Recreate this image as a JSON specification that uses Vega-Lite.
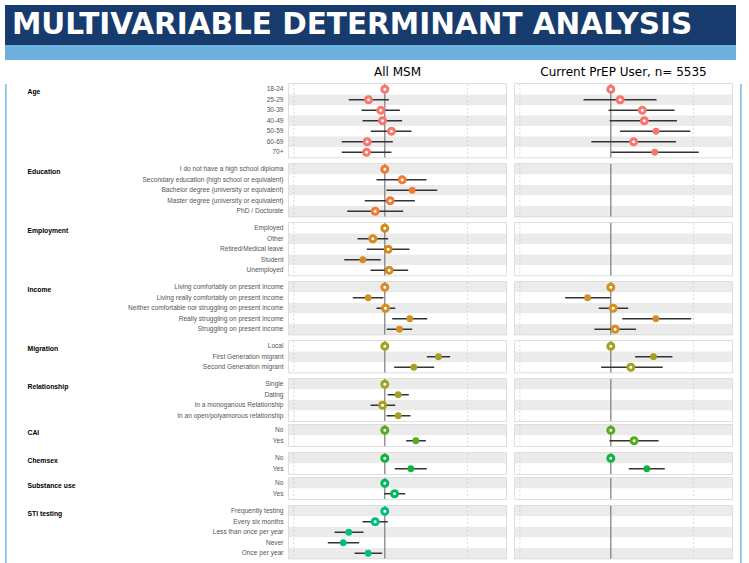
{
"$schema": "https://vega.github.io/schema/vega-lite/v6.json",
"background": "#ffffff",
"padding": {"left": 5, "top": 5, "right": 0, "bottom": 0},
"config": {"font": "Liberation Sans", "view": {"stroke": "#d3d3d3", "strokeWidth": 1.5}},
"data": {"values": [
{"i":1,"g":"Age","c":"18-24","p":"All MSM","est":0},
{"i":1,"g":"Age","c":"18-24","p":"Current PrEP User, n= 5535","est":0},
{"i":2,"g":"Age","c":"25-29","p":"All MSM","est":-0.179,"lo":-0.396,"hi":0.044},
{"i":2,"g":"Age","c":"25-29","p":"Current PrEP User, n= 5535","est":0.103,"lo":-0.3,"hi":0.503},
{"i":3,"g":"Age","c":"30-39","p":"All MSM","est":-0.044,"lo":-0.256,"hi":0.165},
{"i":3,"g":"Age","c":"30-39","p":"Current PrEP User, n= 5535","est":0.346,"lo":-0.024,"hi":0.701},
{"i":4,"g":"Age","c":"40-49","p":"All MSM","est":-0.025,"lo":-0.245,"hi":0.191},
{"i":4,"g":"Age","c":"40-49","p":"Current PrEP User, n= 5535","est":0.368,"lo":-0.013,"hi":0.727},
{"i":5,"g":"Age","c":"50-59","p":"All MSM","est":0.073,"lo":-0.154,"hi":0.293},
{"i":5,"g":"Age","c":"50-59","p":"Current PrEP User, n= 5535","est":0.497,"lo":0.101,"hi":0.874,"sig":true},
{"i":6,"g":"Age","c":"60-69","p":"All MSM","est":-0.194,"lo":-0.473,"hi":0.088},
{"i":6,"g":"Age","c":"60-69","p":"Current PrEP User, n= 5535","est":0.251,"lo":-0.214,"hi":0.716},
{"i":7,"g":"Age","c":"70+","p":"All MSM","est":-0.201,"lo":-0.473,"hi":0.073},
{"i":7,"g":"Age","c":"70+","p":"Current PrEP User, n= 5535","est":0.483,"lo":0.005,"hi":0.967,"sig":true},
{"i":8,"g":"Education","c":"I do not have a high school diploma","p":"All MSM","est":0},
{"i":8,"g":"Education","c":"I do not have a high school diploma","p":"Current PrEP User, n= 5535"},
{"i":9,"g":"Education","c":"Secondary education (high school or equivalent)","p":"All MSM","est":0.191,"lo":-0.091,"hi":0.458},
{"i":9,"g":"Education","c":"Secondary education (high school or equivalent)","p":"Current PrEP User, n= 5535"},
{"i":10,"g":"Education","c":"Bachelor degree (university or equivalent)","p":"All MSM","est":0.301,"lo":0.018,"hi":0.576,"sig":true},
{"i":10,"g":"Education","c":"Bachelor degree (university or equivalent)","p":"Current PrEP User, n= 5535"},
{"i":11,"g":"Education","c":"Master degree (university or equivalent)","p":"All MSM","est":0.059,"lo":-0.22,"hi":0.33},
{"i":11,"g":"Education","c":"Master degree (university or equivalent)","p":"Current PrEP User, n= 5535"},
{"i":12,"g":"Education","c":"PhD / Doctorate","p":"All MSM","est":-0.106,"lo":-0.413,"hi":0.202},
{"i":12,"g":"Education","c":"PhD / Doctorate","p":"Current PrEP User, n= 5535"},
{"i":13,"g":"Employment","c":"Employed","p":"All MSM","est":0},
{"i":13,"g":"Employment","c":"Employed","p":"Current PrEP User, n= 5535"},
{"i":14,"g":"Employment","c":"Other","p":"All MSM","est":-0.132,"lo":-0.3,"hi":0.037},
{"i":14,"g":"Employment","c":"Other","p":"Current PrEP User, n= 5535"},
{"i":15,"g":"Employment","c":"Retired/Medical leave","p":"All MSM","est":0.037,"lo":-0.198,"hi":0.271},
{"i":15,"g":"Employment","c":"Retired/Medical leave","p":"Current PrEP User, n= 5535"},
{"i":16,"g":"Employment","c":"Student","p":"All MSM","est":-0.242,"lo":-0.446,"hi":-0.044,"sig":true},
{"i":16,"g":"Employment","c":"Student","p":"Current PrEP User, n= 5535"},
{"i":17,"g":"Employment","c":"Unemployed","p":"All MSM","est":0.048,"lo":-0.157,"hi":0.257},
{"i":17,"g":"Employment","c":"Unemployed","p":"Current PrEP User, n= 5535"},
{"i":18,"g":"Income","c":"Living comfortably on present income","p":"All MSM","est":0},
{"i":18,"g":"Income","c":"Living comfortably on present income","p":"Current PrEP User, n= 5535","est":0},
{"i":19,"g":"Income","c":"Living really comfortably on present income","p":"All MSM","est":-0.183,"lo":-0.352,"hi":-0.015,"sig":true},
{"i":19,"g":"Income","c":"Living really comfortably on present income","p":"Current PrEP User, n= 5535","est":-0.256,"lo":-0.502,"hi":-0.005,"sig":true},
{"i":20,"g":"Income","c":"Neither comfortable nor struggling on present income","p":"All MSM","est":0.007,"lo":-0.091,"hi":0.114},
{"i":20,"g":"Income","c":"Neither comfortable nor struggling on present income","p":"Current PrEP User, n= 5535","est":0.026,"lo":-0.132,"hi":0.191},
{"i":21,"g":"Income","c":"Really struggling on present income","p":"All MSM","est":0.275,"lo":0.081,"hi":0.465,"sig":true},
{"i":21,"g":"Income","c":"Really struggling on present income","p":"Current PrEP User, n= 5535","est":0.495,"lo":0.125,"hi":0.883,"sig":true},
{"i":22,"g":"Income","c":"Struggling on present income","p":"All MSM","est":0.161,"lo":0.022,"hi":0.301,"sig":true},
{"i":22,"g":"Income","c":"Struggling on present income","p":"Current PrEP User, n= 5535","est":0.048,"lo":-0.18,"hi":0.278},
{"i":23,"g":"Migration","c":"Local","p":"All MSM","est":0},
{"i":23,"g":"Migration","c":"Local","p":"Current PrEP User, n= 5535","est":0},
{"i":24,"g":"Migration","c":"First Generation migrant","p":"All MSM","est":0.59,"lo":0.462,"hi":0.718,"sig":true},
{"i":24,"g":"Migration","c":"First Generation migrant","p":"Current PrEP User, n= 5535","est":0.469,"lo":0.267,"hi":0.677,"sig":true},
{"i":25,"g":"Migration","c":"Second Generation migrant","p":"All MSM","est":0.319,"lo":0.103,"hi":0.543,"sig":true},
{"i":25,"g":"Migration","c":"Second Generation migrant","p":"Current PrEP User, n= 5535","est":0.22,"lo":-0.106,"hi":0.571},
{"i":26,"g":"Relationship","c":"Single","p":"All MSM","est":0},
{"i":26,"g":"Relationship","c":"Single","p":"Current PrEP User, n= 5535"},
{"i":27,"g":"Relationship","c":"Dating","p":"All MSM","est":0.147,"lo":0.03,"hi":0.264,"sig":true},
{"i":27,"g":"Relationship","c":"Dating","p":"Current PrEP User, n= 5535"},
{"i":28,"g":"Relationship","c":"In a monoganous Relationship","p":"All MSM","est":-0.025,"lo":-0.157,"hi":0.114},
{"i":28,"g":"Relationship","c":"In a monoganous Relationship","p":"Current PrEP User, n= 5535"},
{"i":29,"g":"Relationship","c":"In an open/polyamorous relationship","p":"All MSM","est":0.147,"lo":0.019,"hi":0.282,"sig":true},
{"i":29,"g":"Relationship","c":"In an open/polyamorous relationship","p":"Current PrEP User, n= 5535"},
{"i":30,"g":"CAI","c":"No","p":"All MSM","est":0},
{"i":30,"g":"CAI","c":"No","p":"Current PrEP User, n= 5535","est":0},
{"i":31,"g":"CAI","c":"Yes","p":"All MSM","est":0.341,"lo":0.235,"hi":0.451,"sig":true},
{"i":31,"g":"CAI","c":"Yes","p":"Current PrEP User, n= 5535","est":0.256,"lo":-0.015,"hi":0.525},
{"i":32,"g":"Chemsex","c":"No","p":"All MSM","est":0},
{"i":32,"g":"Chemsex","c":"No","p":"Current PrEP User, n= 5535","est":0},
{"i":33,"g":"Chemsex","c":"Yes","p":"All MSM","est":0.286,"lo":0.11,"hi":0.462,"sig":true},
{"i":33,"g":"Chemsex","c":"Yes","p":"Current PrEP User, n= 5535","est":0.396,"lo":0.198,"hi":0.593,"sig":true},
{"i":34,"g":"Substance use","c":"No","p":"All MSM","est":0},
{"i":34,"g":"Substance use","c":"No","p":"Current PrEP User, n= 5535"},
{"i":35,"g":"Substance use","c":"Yes","p":"All MSM","est":0.107,"lo":-0.007,"hi":0.224},
{"i":35,"g":"Substance use","c":"Yes","p":"Current PrEP User, n= 5535"},
{"i":36,"g":"STI testing","c":"Frequently testing","p":"All MSM","est":0},
{"i":36,"g":"STI testing","c":"Frequently testing","p":"Current PrEP User, n= 5535"},
{"i":37,"g":"STI testing","c":"Every six months","p":"All MSM","est":-0.106,"lo":-0.245,"hi":0.033},
{"i":37,"g":"STI testing","c":"Every six months","p":"Current PrEP User, n= 5535"},
{"i":38,"g":"STI testing","c":"Less than once per year","p":"All MSM","est":-0.396,"lo":-0.553,"hi":-0.234,"sig":true},
{"i":38,"g":"STI testing","c":"Less than once per year","p":"Current PrEP User, n= 5535"},
{"i":39,"g":"STI testing","c":"Never","p":"All MSM","est":-0.457,"lo":-0.626,"hi":-0.281,"sig":true},
{"i":39,"g":"STI testing","c":"Never","p":"Current PrEP User, n= 5535"},
{"i":40,"g":"STI testing","c":"Once per year","p":"All MSM","est":-0.183,"lo":-0.333,"hi":-0.029,"sig":true},
{"i":40,"g":"STI testing","c":"Once per year","p":"Current PrEP User, n= 5535"}
]},
"spacing": 6,
"vconcat": [
{"spacing": 0, "vconcat": [
 {"data": {"values": [{"t": "MULTIVARIABLE DETERMINANT ANALYSIS"}]}, "width": 731, "height": 40, "view": {"fill": "#163B6C", "stroke": null},
  "mark": {"type": "text", "align": "left", "baseline": "middle", "font": "DejaVu Sans", "fontWeight": "bold", "fontSize": 29.5, "color": "#ffffff"},
  "encoding": {"text": {"field": "t"}, "x": {"value": 7}}},
 {"data": {"values": [{}]}, "width": 731, "height": 15, "view": {"fill": "#6DB0DE", "stroke": null},
  "mark": {"type": "rect", "color": "#6DB0DE"}, "encoding": {}}
]},
{"spacing": 20, "hconcat": [
 {"data": {"values": [{}]}, "width": 1.5, "height": 495, "view": {"fill": "#8EC3E8", "stroke": null}, "mark": {"type": "rect", "color": "#8EC3E8"}, "encoding": {}},
 {"spacing": 7, "hconcat": [
  {"spacing": -3, "vconcat": [
   {"transform": [{"filter": "datum.g == 'Age'"}],
    "facet": {"column": {"field": "p", "type": "nominal", "sort": ["All MSM", "Current PrEP User, n= 5535"], "title": null, "header": {"labelFont": "DejaVu Sans", "labelFontSize": 12, "labelColor": "#000000", "labelPadding": 0}}},
    "spacing": {"row": 0, "column": 7},
    "spec": {"width": 217, "height": {"step": 10.5}, "layer": [
     {"mark": {"type": "rect"}, "encoding": {"y": {"field": "c", "type": "nominal", "sort": {"field": "i", "op": "min"}, "scale": {"paddingInner": 0, "paddingOuter": 0}, "axis": {"title": "Age", "titleX": -261, "titleY": 7, "titleAngle": 0, "titleAlign": "left", "titleBaseline": "middle", "titleFontSize": 6.8, "titleFontWeight": "bold", "titleColor": "#000000", "labelFontSize": 6.6, "labelColor": "#555555", "ticks": false, "domain": false, "labelPadding": 5, "labelLimit": 300}}, "fill": {"condition": {"test": "datum.i % 2 == 0", "value": "#ebebeb"}, "value": "#ffffff"}}},
     {"transform": [{"filter": "datum.i == 1"}], "mark": {"type": "rule", "color": "#cccccc", "strokeDash": [2, 2], "strokeWidth": 0.7}, "encoding": {"x": {"datum": -1, "type": "quantitative", "scale": {"domain": [-1.053, 1.332]}, "axis": null}}},
     {"transform": [{"filter": "datum.i == 1"}], "mark": {"type": "rule", "color": "#cccccc", "strokeDash": [2, 2], "strokeWidth": 0.7}, "encoding": {"x": {"datum": 0.908, "type": "quantitative", "scale": {"domain": [-1.053, 1.332]}, "axis": null}}},
     {"transform": [{"filter": "datum.i == 1"}], "mark": {"type": "rule", "color": "#7a7a7a", "strokeWidth": 1.2}, "encoding": {"x": {"datum": 0, "type": "quantitative", "scale": {"domain": [-1.053, 1.332]}, "axis": null}}},
     {"transform": [{"filter": "datum.lo != null"}], "mark": {"type": "rule", "color": "#333333", "strokeWidth": 1.5}, "encoding": {"y": {"field": "c", "type": "nominal", "sort": {"field": "i", "op": "min"}}, "x": {"field": "lo", "type": "quantitative", "scale": {"domain": [-1.053, 1.332]}, "axis": null}, "x2": {"field": "hi"}}},
     {"transform": [{"filter": "datum.est != null && !datum.sig"}], "mark": {"type": "point", "shape": "circle", "filled": true, "fill": "#ffffff", "stroke": "#F8766D", "strokeWidth": 3, "size": 36, "opacity": 1}, "encoding": {"y": {"field": "c", "type": "nominal", "sort": {"field": "i", "op": "min"}}, "x": {"field": "est", "type": "quantitative", "scale": {"domain": [-1.053, 1.332]}, "axis": null}}},
     {"transform": [{"filter": "datum.sig"}], "mark": {"type": "circle", "color": "#F8766D", "size": 46, "opacity": 1}, "encoding": {"y": {"field": "c", "type": "nominal", "sort": {"field": "i", "op": "min"}}, "x": {"field": "est", "type": "quantitative", "scale": {"domain": [-1.053, 1.332]}, "axis": null}}}
    ]}},
   {"transform": [{"filter": "datum.g == 'Education'"}],
    "facet": {"column": {"field": "p", "type": "nominal", "sort": ["All MSM", "Current PrEP User, n= 5535"], "title": null, "header": null}},
    "spacing": {"row": 0, "column": 7},
    "spec": {"width": 217, "height": {"step": 10.5}, "layer": [
     {"mark": {"type": "rect"}, "encoding": {"y": {"field": "c", "type": "nominal", "sort": {"field": "i", "op": "min"}, "scale": {"paddingInner": 0, "paddingOuter": 0}, "axis": {"title": "Education", "titleX": -261, "titleY": 7, "titleAngle": 0, "titleAlign": "left", "titleBaseline": "middle", "titleFontSize": 6.8, "titleFontWeight": "bold", "titleColor": "#000000", "labelFontSize": 6.6, "labelColor": "#555555", "ticks": false, "domain": false, "labelPadding": 5, "labelLimit": 300}}, "fill": {"condition": {"test": "datum.i % 2 == 0", "value": "#ebebeb"}, "value": "#ffffff"}}},
     {"transform": [{"filter": "datum.i == 8"}], "mark": {"type": "rule", "color": "#cccccc", "strokeDash": [2, 2], "strokeWidth": 0.7}, "encoding": {"x": {"datum": -1, "type": "quantitative", "scale": {"domain": [-1.053, 1.332]}, "axis": null}}},
     {"transform": [{"filter": "datum.i == 8"}], "mark": {"type": "rule", "color": "#cccccc", "strokeDash": [2, 2], "strokeWidth": 0.7}, "encoding": {"x": {"datum": 0.908, "type": "quantitative", "scale": {"domain": [-1.053, 1.332]}, "axis": null}}},
     {"transform": [{"filter": "datum.i == 8"}], "mark": {"type": "rule", "color": "#7a7a7a", "strokeWidth": 1.2}, "encoding": {"x": {"datum": 0, "type": "quantitative", "scale": {"domain": [-1.053, 1.332]}, "axis": null}}},
     {"transform": [{"filter": "datum.lo != null"}], "mark": {"type": "rule", "color": "#333333", "strokeWidth": 1.5}, "encoding": {"y": {"field": "c", "type": "nominal", "sort": {"field": "i", "op": "min"}}, "x": {"field": "lo", "type": "quantitative", "scale": {"domain": [-1.053, 1.332]}, "axis": null}, "x2": {"field": "hi"}}},
     {"transform": [{"filter": "datum.est != null && !datum.sig"}], "mark": {"type": "point", "shape": "circle", "filled": true, "fill": "#ffffff", "stroke": "#EF7B36", "strokeWidth": 3, "size": 36, "opacity": 1}, "encoding": {"y": {"field": "c", "type": "nominal", "sort": {"field": "i", "op": "min"}}, "x": {"field": "est", "type": "quantitative", "scale": {"domain": [-1.053, 1.332]}, "axis": null}}},
     {"transform": [{"filter": "datum.sig"}], "mark": {"type": "circle", "color": "#EF7B36", "size": 46, "opacity": 1}, "encoding": {"y": {"field": "c", "type": "nominal", "sort": {"field": "i", "op": "min"}}, "x": {"field": "est", "type": "quantitative", "scale": {"domain": [-1.053, 1.332]}, "axis": null}}}
    ]}},
   {"transform": [{"filter": "datum.g == 'Employment'"}],
    "facet": {"column": {"field": "p", "type": "nominal", "sort": ["All MSM", "Current PrEP User, n= 5535"], "title": null, "header": null}},
    "spacing": {"row": 0, "column": 7},
    "spec": {"width": 217, "height": {"step": 10.5}, "layer": [
     {"mark": {"type": "rect"}, "encoding": {"y": {"field": "c", "type": "nominal", "sort": {"field": "i", "op": "min"}, "scale": {"paddingInner": 0, "paddingOuter": 0}, "axis": {"title": "Employment", "titleX": -261, "titleY": 7, "titleAngle": 0, "titleAlign": "left", "titleBaseline": "middle", "titleFontSize": 6.8, "titleFontWeight": "bold", "titleColor": "#000000", "labelFontSize": 6.6, "labelColor": "#555555", "ticks": false, "domain": false, "labelPadding": 5, "labelLimit": 300}}, "fill": {"condition": {"test": "datum.i % 2 == 0", "value": "#ebebeb"}, "value": "#ffffff"}}},
     {"transform": [{"filter": "datum.i == 13"}], "mark": {"type": "rule", "color": "#cccccc", "strokeDash": [2, 2], "strokeWidth": 0.7}, "encoding": {"x": {"datum": -1, "type": "quantitative", "scale": {"domain": [-1.053, 1.332]}, "axis": null}}},
     {"transform": [{"filter": "datum.i == 13"}], "mark": {"type": "rule", "color": "#cccccc", "strokeDash": [2, 2], "strokeWidth": 0.7}, "encoding": {"x": {"datum": 0.908, "type": "quantitative", "scale": {"domain": [-1.053, 1.332]}, "axis": null}}},
     {"transform": [{"filter": "datum.i == 13"}], "mark": {"type": "rule", "color": "#7a7a7a", "strokeWidth": 1.2}, "encoding": {"x": {"datum": 0, "type": "quantitative", "scale": {"domain": [-1.053, 1.332]}, "axis": null}}},
     {"transform": [{"filter": "datum.lo != null"}], "mark": {"type": "rule", "color": "#333333", "strokeWidth": 1.5}, "encoding": {"y": {"field": "c", "type": "nominal", "sort": {"field": "i", "op": "min"}}, "x": {"field": "lo", "type": "quantitative", "scale": {"domain": [-1.053, 1.332]}, "axis": null}, "x2": {"field": "hi"}}},
     {"transform": [{"filter": "datum.est != null && !datum.sig"}], "mark": {"type": "point", "shape": "circle", "filled": true, "fill": "#ffffff", "stroke": "#D68A1D", "strokeWidth": 3, "size": 36, "opacity": 1}, "encoding": {"y": {"field": "c", "type": "nominal", "sort": {"field": "i", "op": "min"}}, "x": {"field": "est", "type": "quantitative", "scale": {"domain": [-1.053, 1.332]}, "axis": null}}},
     {"transform": [{"filter": "datum.sig"}], "mark": {"type": "circle", "color": "#D68A1D", "size": 46, "opacity": 1}, "encoding": {"y": {"field": "c", "type": "nominal", "sort": {"field": "i", "op": "min"}}, "x": {"field": "est", "type": "quantitative", "scale": {"domain": [-1.053, 1.332]}, "axis": null}}}
    ]}},
   {"transform": [{"filter": "datum.g == 'Income'"}],
    "facet": {"column": {"field": "p", "type": "nominal", "sort": ["All MSM", "Current PrEP User, n= 5535"], "title": null, "header": null}},
    "spacing": {"row": 0, "column": 7},
    "spec": {"width": 217, "height": {"step": 10.5}, "layer": [
     {"mark": {"type": "rect"}, "encoding": {"y": {"field": "c", "type": "nominal", "sort": {"field": "i", "op": "min"}, "scale": {"paddingInner": 0, "paddingOuter": 0}, "axis": {"title": "Income", "titleX": -261, "titleY": 7, "titleAngle": 0, "titleAlign": "left", "titleBaseline": "middle", "titleFontSize": 6.8, "titleFontWeight": "bold", "titleColor": "#000000", "labelFontSize": 6.6, "labelColor": "#555555", "ticks": false, "domain": false, "labelPadding": 5, "labelLimit": 300}}, "fill": {"condition": {"test": "datum.i % 2 == 0", "value": "#ebebeb"}, "value": "#ffffff"}}},
     {"transform": [{"filter": "datum.i == 18"}], "mark": {"type": "rule", "color": "#cccccc", "strokeDash": [2, 2], "strokeWidth": 0.7}, "encoding": {"x": {"datum": -1, "type": "quantitative", "scale": {"domain": [-1.053, 1.332]}, "axis": null}}},
     {"transform": [{"filter": "datum.i == 18"}], "mark": {"type": "rule", "color": "#cccccc", "strokeDash": [2, 2], "strokeWidth": 0.7}, "encoding": {"x": {"datum": 0.908, "type": "quantitative", "scale": {"domain": [-1.053, 1.332]}, "axis": null}}},
     {"transform": [{"filter": "datum.i == 18"}], "mark": {"type": "rule", "color": "#7a7a7a", "strokeWidth": 1.2}, "encoding": {"x": {"datum": 0, "type": "quantitative", "scale": {"domain": [-1.053, 1.332]}, "axis": null}}},
     {"transform": [{"filter": "datum.lo != null"}], "mark": {"type": "rule", "color": "#333333", "strokeWidth": 1.5}, "encoding": {"y": {"field": "c", "type": "nominal", "sort": {"field": "i", "op": "min"}}, "x": {"field": "lo", "type": "quantitative", "scale": {"domain": [-1.053, 1.332]}, "axis": null}, "x2": {"field": "hi"}}},
     {"transform": [{"filter": "datum.est != null && !datum.sig"}], "mark": {"type": "point", "shape": "circle", "filled": true, "fill": "#ffffff", "stroke": "#D38F1F", "strokeWidth": 3, "size": 36, "opacity": 1}, "encoding": {"y": {"field": "c", "type": "nominal", "sort": {"field": "i", "op": "min"}}, "x": {"field": "est", "type": "quantitative", "scale": {"domain": [-1.053, 1.332]}, "axis": null}}},
     {"transform": [{"filter": "datum.sig"}], "mark": {"type": "circle", "color": "#D38F1F", "size": 46, "opacity": 1}, "encoding": {"y": {"field": "c", "type": "nominal", "sort": {"field": "i", "op": "min"}}, "x": {"field": "est", "type": "quantitative", "scale": {"domain": [-1.053, 1.332]}, "axis": null}}}
    ]}},
   {"transform": [{"filter": "datum.g == 'Migration'"}],
    "facet": {"column": {"field": "p", "type": "nominal", "sort": ["All MSM", "Current PrEP User, n= 5535"], "title": null, "header": null}},
    "spacing": {"row": 0, "column": 7},
    "spec": {"width": 217, "height": {"step": 10.5}, "layer": [
     {"mark": {"type": "rect"}, "encoding": {"y": {"field": "c", "type": "nominal", "sort": {"field": "i", "op": "min"}, "scale": {"paddingInner": 0, "paddingOuter": 0}, "axis": {"title": "Migration", "titleX": -261, "titleY": 7, "titleAngle": 0, "titleAlign": "left", "titleBaseline": "middle", "titleFontSize": 6.8, "titleFontWeight": "bold", "titleColor": "#000000", "labelFontSize": 6.6, "labelColor": "#555555", "ticks": false, "domain": false, "labelPadding": 5, "labelLimit": 300}}, "fill": {"condition": {"test": "datum.i % 2 == 0", "value": "#ebebeb"}, "value": "#ffffff"}}},
     {"transform": [{"filter": "datum.i == 23"}], "mark": {"type": "rule", "color": "#cccccc", "strokeDash": [2, 2], "strokeWidth": 0.7}, "encoding": {"x": {"datum": -1, "type": "quantitative", "scale": {"domain": [-1.053, 1.332]}, "axis": null}}},
     {"transform": [{"filter": "datum.i == 23"}], "mark": {"type": "rule", "color": "#cccccc", "strokeDash": [2, 2], "strokeWidth": 0.7}, "encoding": {"x": {"datum": 0.908, "type": "quantitative", "scale": {"domain": [-1.053, 1.332]}, "axis": null}}},
     {"transform": [{"filter": "datum.i == 23"}], "mark": {"type": "rule", "color": "#7a7a7a", "strokeWidth": 1.2}, "encoding": {"x": {"datum": 0, "type": "quantitative", "scale": {"domain": [-1.053, 1.332]}, "axis": null}}},
     {"transform": [{"filter": "datum.lo != null"}], "mark": {"type": "rule", "color": "#333333", "strokeWidth": 1.5}, "encoding": {"y": {"field": "c", "type": "nominal", "sort": {"field": "i", "op": "min"}}, "x": {"field": "lo", "type": "quantitative", "scale": {"domain": [-1.053, 1.332]}, "axis": null}, "x2": {"field": "hi"}}},
     {"transform": [{"filter": "datum.est != null && !datum.sig"}], "mark": {"type": "point", "shape": "circle", "filled": true, "fill": "#ffffff", "stroke": "#A6A11D", "strokeWidth": 3, "size": 36, "opacity": 1}, "encoding": {"y": {"field": "c", "type": "nominal", "sort": {"field": "i", "op": "min"}}, "x": {"field": "est", "type": "quantitative", "scale": {"domain": [-1.053, 1.332]}, "axis": null}}},
     {"transform": [{"filter": "datum.sig"}], "mark": {"type": "circle", "color": "#A6A11D", "size": 46, "opacity": 1}, "encoding": {"y": {"field": "c", "type": "nominal", "sort": {"field": "i", "op": "min"}}, "x": {"field": "est", "type": "quantitative", "scale": {"domain": [-1.053, 1.332]}, "axis": null}}}
    ]}},
   {"transform": [{"filter": "datum.g == 'Relationship'"}],
    "facet": {"column": {"field": "p", "type": "nominal", "sort": ["All MSM", "Current PrEP User, n= 5535"], "title": null, "header": null}},
    "spacing": {"row": 0, "column": 7},
    "spec": {"width": 217, "height": {"step": 10.5}, "layer": [
     {"mark": {"type": "rect"}, "encoding": {"y": {"field": "c", "type": "nominal", "sort": {"field": "i", "op": "min"}, "scale": {"paddingInner": 0, "paddingOuter": 0}, "axis": {"title": "Relationship", "titleX": -261, "titleY": 7, "titleAngle": 0, "titleAlign": "left", "titleBaseline": "middle", "titleFontSize": 6.8, "titleFontWeight": "bold", "titleColor": "#000000", "labelFontSize": 6.6, "labelColor": "#555555", "ticks": false, "domain": false, "labelPadding": 5, "labelLimit": 300}}, "fill": {"condition": {"test": "datum.i % 2 == 0", "value": "#ebebeb"}, "value": "#ffffff"}}},
     {"transform": [{"filter": "datum.i == 26"}], "mark": {"type": "rule", "color": "#cccccc", "strokeDash": [2, 2], "strokeWidth": 0.7}, "encoding": {"x": {"datum": -1, "type": "quantitative", "scale": {"domain": [-1.053, 1.332]}, "axis": null}}},
     {"transform": [{"filter": "datum.i == 26"}], "mark": {"type": "rule", "color": "#cccccc", "strokeDash": [2, 2], "strokeWidth": 0.7}, "encoding": {"x": {"datum": 0.908, "type": "quantitative", "scale": {"domain": [-1.053, 1.332]}, "axis": null}}},
     {"transform": [{"filter": "datum.i == 26"}], "mark": {"type": "rule", "color": "#7a7a7a", "strokeWidth": 1.2}, "encoding": {"x": {"datum": 0, "type": "quantitative", "scale": {"domain": [-1.053, 1.332]}, "axis": null}}},
     {"transform": [{"filter": "datum.lo != null"}], "mark": {"type": "rule", "color": "#333333", "strokeWidth": 1.5}, "encoding": {"y": {"field": "c", "type": "nominal", "sort": {"field": "i", "op": "min"}}, "x": {"field": "lo", "type": "quantitative", "scale": {"domain": [-1.053, 1.332]}, "axis": null}, "x2": {"field": "hi"}}},
     {"transform": [{"filter": "datum.est != null && !datum.sig"}], "mark": {"type": "point", "shape": "circle", "filled": true, "fill": "#ffffff", "stroke": "#A3A21F", "strokeWidth": 3, "size": 36, "opacity": 1}, "encoding": {"y": {"field": "c", "type": "nominal", "sort": {"field": "i", "op": "min"}}, "x": {"field": "est", "type": "quantitative", "scale": {"domain": [-1.053, 1.332]}, "axis": null}}},
     {"transform": [{"filter": "datum.sig"}], "mark": {"type": "circle", "color": "#A3A21F", "size": 46, "opacity": 1}, "encoding": {"y": {"field": "c", "type": "nominal", "sort": {"field": "i", "op": "min"}}, "x": {"field": "est", "type": "quantitative", "scale": {"domain": [-1.053, 1.332]}, "axis": null}}}
    ]}},
   {"transform": [{"filter": "datum.g == 'CAI'"}],
    "facet": {"column": {"field": "p", "type": "nominal", "sort": ["All MSM", "Current PrEP User, n= 5535"], "title": null, "header": null}},
    "spacing": {"row": 0, "column": 7},
    "spec": {"width": 217, "height": {"step": 10.5}, "layer": [
     {"mark": {"type": "rect"}, "encoding": {"y": {"field": "c", "type": "nominal", "sort": {"field": "i", "op": "min"}, "scale": {"paddingInner": 0, "paddingOuter": 0}, "axis": {"title": "CAI", "titleX": -261, "titleY": 7, "titleAngle": 0, "titleAlign": "left", "titleBaseline": "middle", "titleFontSize": 6.8, "titleFontWeight": "bold", "titleColor": "#000000", "labelFontSize": 6.6, "labelColor": "#555555", "ticks": false, "domain": false, "labelPadding": 5, "labelLimit": 300}}, "fill": {"condition": {"test": "datum.i % 2 == 0", "value": "#ebebeb"}, "value": "#ffffff"}}},
     {"transform": [{"filter": "datum.i == 30"}], "mark": {"type": "rule", "color": "#cccccc", "strokeDash": [2, 2], "strokeWidth": 0.7}, "encoding": {"x": {"datum": -1, "type": "quantitative", "scale": {"domain": [-1.053, 1.332]}, "axis": null}}},
     {"transform": [{"filter": "datum.i == 30"}], "mark": {"type": "rule", "color": "#cccccc", "strokeDash": [2, 2], "strokeWidth": 0.7}, "encoding": {"x": {"datum": 0.908, "type": "quantitative", "scale": {"domain": [-1.053, 1.332]}, "axis": null}}},
     {"transform": [{"filter": "datum.i == 30"}], "mark": {"type": "rule", "color": "#7a7a7a", "strokeWidth": 1.2}, "encoding": {"x": {"datum": 0, "type": "quantitative", "scale": {"domain": [-1.053, 1.332]}, "axis": null}}},
     {"transform": [{"filter": "datum.lo != null"}], "mark": {"type": "rule", "color": "#333333", "strokeWidth": 1.5}, "encoding": {"y": {"field": "c", "type": "nominal", "sort": {"field": "i", "op": "min"}}, "x": {"field": "lo", "type": "quantitative", "scale": {"domain": [-1.053, 1.332]}, "axis": null}, "x2": {"field": "hi"}}},
     {"transform": [{"filter": "datum.est != null && !datum.sig"}], "mark": {"type": "point", "shape": "circle", "filled": true, "fill": "#ffffff", "stroke": "#55AC1F", "strokeWidth": 3, "size": 36, "opacity": 1}, "encoding": {"y": {"field": "c", "type": "nominal", "sort": {"field": "i", "op": "min"}}, "x": {"field": "est", "type": "quantitative", "scale": {"domain": [-1.053, 1.332]}, "axis": null}}},
     {"transform": [{"filter": "datum.sig"}], "mark": {"type": "circle", "color": "#55AC1F", "size": 46, "opacity": 1}, "encoding": {"y": {"field": "c", "type": "nominal", "sort": {"field": "i", "op": "min"}}, "x": {"field": "est", "type": "quantitative", "scale": {"domain": [-1.053, 1.332]}, "axis": null}}}
    ]}},
   {"transform": [{"filter": "datum.g == 'Chemsex'"}],
    "facet": {"column": {"field": "p", "type": "nominal", "sort": ["All MSM", "Current PrEP User, n= 5535"], "title": null, "header": null}},
    "spacing": {"row": 0, "column": 7},
    "spec": {"width": 217, "height": {"step": 10.5}, "layer": [
     {"mark": {"type": "rect"}, "encoding": {"y": {"field": "c", "type": "nominal", "sort": {"field": "i", "op": "min"}, "scale": {"paddingInner": 0, "paddingOuter": 0}, "axis": {"title": "Chemsex", "titleX": -261, "titleY": 7, "titleAngle": 0, "titleAlign": "left", "titleBaseline": "middle", "titleFontSize": 6.8, "titleFontWeight": "bold", "titleColor": "#000000", "labelFontSize": 6.6, "labelColor": "#555555", "ticks": false, "domain": false, "labelPadding": 5, "labelLimit": 300}}, "fill": {"condition": {"test": "datum.i % 2 == 0", "value": "#ebebeb"}, "value": "#ffffff"}}},
     {"transform": [{"filter": "datum.i == 32"}], "mark": {"type": "rule", "color": "#cccccc", "strokeDash": [2, 2], "strokeWidth": 0.7}, "encoding": {"x": {"datum": -1, "type": "quantitative", "scale": {"domain": [-1.053, 1.332]}, "axis": null}}},
     {"transform": [{"filter": "datum.i == 32"}], "mark": {"type": "rule", "color": "#cccccc", "strokeDash": [2, 2], "strokeWidth": 0.7}, "encoding": {"x": {"datum": 0.908, "type": "quantitative", "scale": {"domain": [-1.053, 1.332]}, "axis": null}}},
     {"transform": [{"filter": "datum.i == 32"}], "mark": {"type": "rule", "color": "#7a7a7a", "strokeWidth": 1.2}, "encoding": {"x": {"datum": 0, "type": "quantitative", "scale": {"domain": [-1.053, 1.332]}, "axis": null}}},
     {"transform": [{"filter": "datum.lo != null"}], "mark": {"type": "rule", "color": "#333333", "strokeWidth": 1.5}, "encoding": {"y": {"field": "c", "type": "nominal", "sort": {"field": "i", "op": "min"}}, "x": {"field": "lo", "type": "quantitative", "scale": {"domain": [-1.053, 1.332]}, "axis": null}, "x2": {"field": "hi"}}},
     {"transform": [{"filter": "datum.est != null && !datum.sig"}], "mark": {"type": "point", "shape": "circle", "filled": true, "fill": "#ffffff", "stroke": "#0FB33D", "strokeWidth": 3, "size": 36, "opacity": 1}, "encoding": {"y": {"field": "c", "type": "nominal", "sort": {"field": "i", "op": "min"}}, "x": {"field": "est", "type": "quantitative", "scale": {"domain": [-1.053, 1.332]}, "axis": null}}},
     {"transform": [{"filter": "datum.sig"}], "mark": {"type": "circle", "color": "#0FB33D", "size": 46, "opacity": 1}, "encoding": {"y": {"field": "c", "type": "nominal", "sort": {"field": "i", "op": "min"}}, "x": {"field": "est", "type": "quantitative", "scale": {"domain": [-1.053, 1.332]}, "axis": null}}}
    ]}},
   {"transform": [{"filter": "datum.g == 'Substance use'"}],
    "facet": {"column": {"field": "p", "type": "nominal", "sort": ["All MSM", "Current PrEP User, n= 5535"], "title": null, "header": null}},
    "spacing": {"row": 0, "column": 7},
    "spec": {"width": 217, "height": {"step": 10.5}, "layer": [
     {"mark": {"type": "rect"}, "encoding": {"y": {"field": "c", "type": "nominal", "sort": {"field": "i", "op": "min"}, "scale": {"paddingInner": 0, "paddingOuter": 0}, "axis": {"title": "Substance use", "titleX": -261, "titleY": 7, "titleAngle": 0, "titleAlign": "left", "titleBaseline": "middle", "titleFontSize": 6.8, "titleFontWeight": "bold", "titleColor": "#000000", "labelFontSize": 6.6, "labelColor": "#555555", "ticks": false, "domain": false, "labelPadding": 5, "labelLimit": 300}}, "fill": {"condition": {"test": "datum.i % 2 == 0", "value": "#ebebeb"}, "value": "#ffffff"}}},
     {"transform": [{"filter": "datum.i == 34"}], "mark": {"type": "rule", "color": "#cccccc", "strokeDash": [2, 2], "strokeWidth": 0.7}, "encoding": {"x": {"datum": -1, "type": "quantitative", "scale": {"domain": [-1.053, 1.332]}, "axis": null}}},
     {"transform": [{"filter": "datum.i == 34"}], "mark": {"type": "rule", "color": "#cccccc", "strokeDash": [2, 2], "strokeWidth": 0.7}, "encoding": {"x": {"datum": 0.908, "type": "quantitative", "scale": {"domain": [-1.053, 1.332]}, "axis": null}}},
     {"transform": [{"filter": "datum.i == 34"}], "mark": {"type": "rule", "color": "#7a7a7a", "strokeWidth": 1.2}, "encoding": {"x": {"datum": 0, "type": "quantitative", "scale": {"domain": [-1.053, 1.332]}, "axis": null}}},
     {"transform": [{"filter": "datum.lo != null"}], "mark": {"type": "rule", "color": "#333333", "strokeWidth": 1.5}, "encoding": {"y": {"field": "c", "type": "nominal", "sort": {"field": "i", "op": "min"}}, "x": {"field": "lo", "type": "quantitative", "scale": {"domain": [-1.053, 1.332]}, "axis": null}, "x2": {"field": "hi"}}},
     {"transform": [{"filter": "datum.est != null && !datum.sig"}], "mark": {"type": "point", "shape": "circle", "filled": true, "fill": "#ffffff", "stroke": "#00B95E", "strokeWidth": 3, "size": 36, "opacity": 1}, "encoding": {"y": {"field": "c", "type": "nominal", "sort": {"field": "i", "op": "min"}}, "x": {"field": "est", "type": "quantitative", "scale": {"domain": [-1.053, 1.332]}, "axis": null}}},
     {"transform": [{"filter": "datum.sig"}], "mark": {"type": "circle", "color": "#00B95E", "size": 46, "opacity": 1}, "encoding": {"y": {"field": "c", "type": "nominal", "sort": {"field": "i", "op": "min"}}, "x": {"field": "est", "type": "quantitative", "scale": {"domain": [-1.053, 1.332]}, "axis": null}}}
    ]}},
   {"transform": [{"filter": "datum.g == 'STI testing'"}],
    "facet": {"column": {"field": "p", "type": "nominal", "sort": ["All MSM", "Current PrEP User, n= 5535"], "title": null, "header": null}},
    "spacing": {"row": 0, "column": 7},
    "spec": {"width": 217, "height": {"step": 10.5}, "layer": [
     {"mark": {"type": "rect"}, "encoding": {"y": {"field": "c", "type": "nominal", "sort": {"field": "i", "op": "min"}, "scale": {"paddingInner": 0, "paddingOuter": 0}, "axis": {"title": "STI testing", "titleX": -261, "titleY": 7, "titleAngle": 0, "titleAlign": "left", "titleBaseline": "middle", "titleFontSize": 6.8, "titleFontWeight": "bold", "titleColor": "#000000", "labelFontSize": 6.6, "labelColor": "#555555", "ticks": false, "domain": false, "labelPadding": 5, "labelLimit": 300}}, "fill": {"condition": {"test": "datum.i % 2 == 0", "value": "#ebebeb"}, "value": "#ffffff"}}},
     {"transform": [{"filter": "datum.i == 36"}], "mark": {"type": "rule", "color": "#cccccc", "strokeDash": [2, 2], "strokeWidth": 0.7}, "encoding": {"x": {"datum": -1, "type": "quantitative", "scale": {"domain": [-1.053, 1.332]}, "axis": null}}},
     {"transform": [{"filter": "datum.i == 36"}], "mark": {"type": "rule", "color": "#cccccc", "strokeDash": [2, 2], "strokeWidth": 0.7}, "encoding": {"x": {"datum": 0.908, "type": "quantitative", "scale": {"domain": [-1.053, 1.332]}, "axis": null}}},
     {"transform": [{"filter": "datum.i == 36"}], "mark": {"type": "rule", "color": "#7a7a7a", "strokeWidth": 1.2}, "encoding": {"x": {"datum": 0, "type": "quantitative", "scale": {"domain": [-1.053, 1.332]}, "axis": null}}},
     {"transform": [{"filter": "datum.lo != null"}], "mark": {"type": "rule", "color": "#333333", "strokeWidth": 1.5}, "encoding": {"y": {"field": "c", "type": "nominal", "sort": {"field": "i", "op": "min"}}, "x": {"field": "lo", "type": "quantitative", "scale": {"domain": [-1.053, 1.332]}, "axis": null}, "x2": {"field": "hi"}}},
     {"transform": [{"filter": "datum.est != null && !datum.sig"}], "mark": {"type": "point", "shape": "circle", "filled": true, "fill": "#ffffff", "stroke": "#00BE80", "strokeWidth": 3, "size": 36, "opacity": 1}, "encoding": {"y": {"field": "c", "type": "nominal", "sort": {"field": "i", "op": "min"}}, "x": {"field": "est", "type": "quantitative", "scale": {"domain": [-1.053, 1.332]}, "axis": null}}},
     {"transform": [{"filter": "datum.sig"}], "mark": {"type": "circle", "color": "#00BE80", "size": 46, "opacity": 1}, "encoding": {"y": {"field": "c", "type": "nominal", "sort": {"field": "i", "op": "min"}}, "x": {"field": "est", "type": "quantitative", "scale": {"domain": [-1.053, 1.332]}, "axis": null}}}
    ]}}
  ]},
  {"data": {"values": [{}]}, "width": 1.5, "height": 495, "view": {"fill": "#8EC3E8", "stroke": null}, "mark": {"type": "rect", "color": "#8EC3E8"}, "encoding": {}}
 ]}
]}
]
}
